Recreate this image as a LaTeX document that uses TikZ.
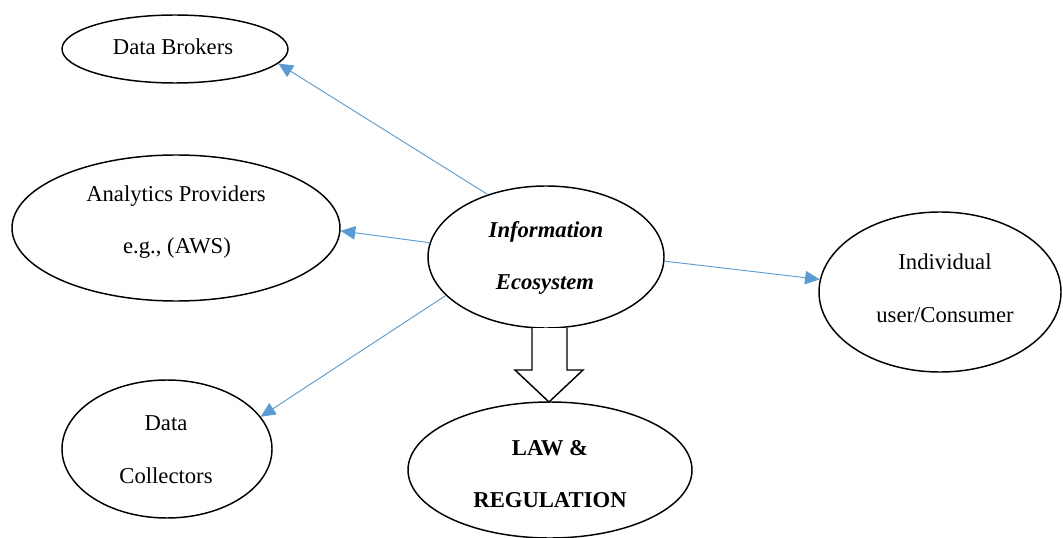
\documentclass[tikz,border=0pt]{standalone}
\usepackage{fontspec}
\setmainfont{Liberation Serif}
\usetikzlibrary{arrows.meta,shapes.geometric}
\definecolor{linkblue}{HTML}{5B9BD5}
\begin{document}
\begin{tikzpicture}[x=0.75pt,y=-0.75pt,
  bubble/.style={draw=black, line width=1.1pt, ellipse, inner sep=0pt},
  word/.style={anchor=base, inner sep=0pt, font=\fontsize{17}{20}\selectfont},
  boldword/.style={word, font=\fontsize{17}{20}\selectfont\bfseries},
  link/.style={draw=linkblue, line width=0.7pt, -{Triangle[length=11pt,width=10pt]}},
  blockarrow/.style={draw=black, line width=1.1pt, fill=white, line join=miter}]
\useasboundingbox (0,0) rectangle (1063,538);

% ellipses
\node[bubble, minimum width=169.5pt, minimum height=51pt] (brokers) at (175,49) {};
\node[bubble, minimum width=246pt, minimum height=109.5pt] (analytics) at (176,228) {};
\node[bubble, minimum width=177pt, minimum height=106.5pt] (info) at (546,257) {};
\node[bubble, minimum width=181.5pt, minimum height=120pt] (user) at (940,292) {};
\node[bubble, minimum width=157.5pt, minimum height=103.5pt] (collectors) at (167,449) {};
\node[bubble, minimum width=213pt, minimum height=102pt] (law) at (550,470) {};

% labels
\node[word] (brokersT) at (173,55) {Data Brokers};
\node[word] (analyticsT1) at (176,202) {Analytics Providers};
\node[word] (analyticsT2) at (177,253) {e.g., (AWS)};
\node[boldword, font=\fontsize{17}{20}\selectfont\bfseries\itshape] (infoT1) at (546,238) {Information};
\node[boldword, font=\fontsize{17}{20}\selectfont\bfseries\itshape] (infoT2) at (545,290) {Ecosystem};
\node[word] (userT1) at (945,269) {Individual};
\node[word] (userT2) at (945,322) {user/Consumer};
\node[word] (collectorsT1) at (166,430) {Data};
\node[word] (collectorsT2) at (166,483) {Collectors};
\node[boldword] (lawT1) at (550,455) {LAW \&};
\node[boldword] (lawT2) at (550,507) {REGULATION};

% connectors
\draw[link] (info.133.6) -- (brokers.-8.5);
\draw[link] (info.173.1) -- (analytics.-1);
\draw[link] (info.-2.4) -- (user.174.8);
\draw[link] (info.201.3) -- (collectors.19.7);

% block arrow down to the law node
\coordinate (shaftL) at (532,328);
\coordinate (shaftR) at (567,328);
\draw[blockarrow] (shaftL) -- (532,370) -- (515,370) -- (549,402) -- (583,370) -- (567,370) -- (shaftR);
\end{tikzpicture}
\end{document}
